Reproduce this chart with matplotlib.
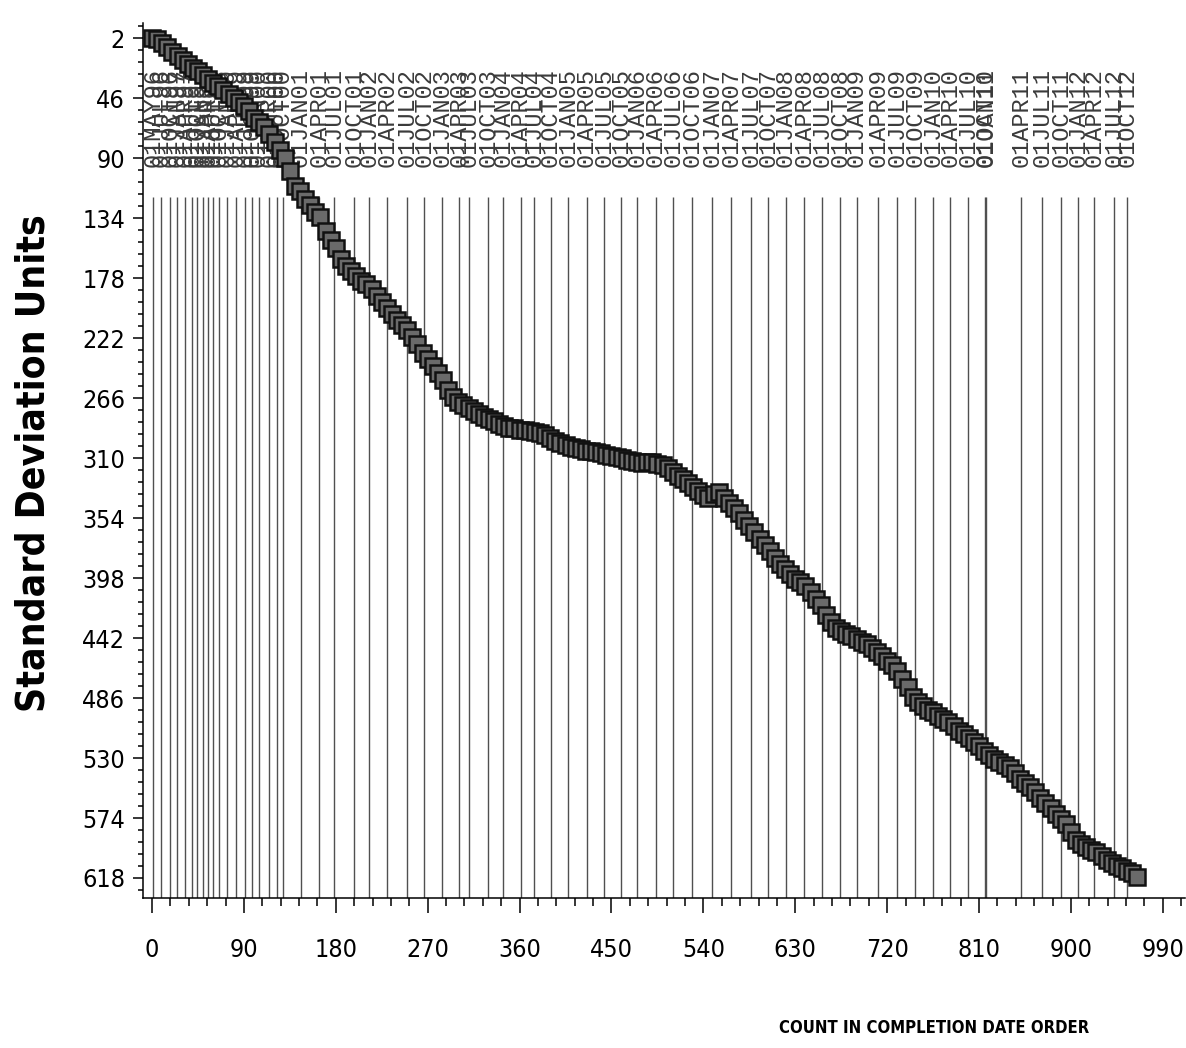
import numpy as np
import matplotlib
matplotlib.use('Agg')
import matplotlib.pyplot as plt
from matplotlib.ticker import MultipleLocator, FixedLocator

plt.rcParams['font.family'] = ['DejaVu Sans']
plt.rcParams['font.stretch'] = 'condensed'

# standard deviation units, read every 5th count
values = [2, 2.5, 5, 8.5, 12, 15, 17.5, 20.5, 23.5, 26,
          28.5, 31.5, 34.5, 37, 40, 43, 45.5, 48.5, 51.5, 55.5,
          60, 63.5, 67, 72, 78, 83.5, 90, 99, 110, 114,
          120, 124.5, 129, 133, 143, 150, 155.5, 164, 169, 172.5,
          176, 180, 182.5, 185.5, 191, 195, 199.5, 204, 208.5, 212.5,
          216, 221, 226, 232.5, 237.5, 242.5, 247.5, 252.5, 260, 265,
          269, 271, 273, 275, 277.5, 279.5, 281.5, 283, 285, 286.5,
          287.5, 288, 289, 289.5, 290, 290.5, 291.5, 293, 295.5, 297.5,
          299, 300.5, 302, 302.5, 303.5, 304.5, 305, 305.5, 306.5, 307.5,
          308, 309, 310, 311, 312, 313, 313.5, 313, 313, 314,
          315, 317, 320, 323, 325, 328, 331, 334, 337, 339,
          336, 335, 339, 343, 346.5, 350, 355, 360, 364, 369,
          374, 378, 383, 387.5, 391, 395, 398.5, 401, 404, 408,
          413, 418, 425, 430, 434.5, 437, 439, 440.5, 442.5, 444.5,
          446, 449, 452, 455, 458.5, 461.5, 466, 472, 478, 485,
          488.5, 491.5, 494.5, 496.5, 499, 501.5, 503.5, 506.5, 510, 512.5,
          515.5, 518.5, 521.5, 524.5, 528, 530.5, 533, 535, 537.5, 541,
          545, 548, 551.5, 555, 559, 563, 567, 571, 575, 578.5,
          584, 590, 593, 595.5, 597.5, 599, 601.5, 604.5, 607, 609,
          611, 612.5, 614.5, 617]
count = np.arange(len(values)) * 5

# reference dates and the count where each one falls
ref_dates = ['01MAY96', '01JUL96', '01OCT96',
             '01JAN97', '01APR97', '01JUL97', '01OCT97',
             '01JAN98', '01APR98', '01JUL98', '01OCT98',
             '01JAN99', '01APR99', '01JUL99', '01OCT99',
             '01JAN00', '01APR00', '01JUL00', '01OCT00',
             '01JAN01', '01APR01', '01JUL01', '01OCT01',
             '01JAN02', '01APR02', '01JUL02', '01OCT02',
             '01JAN03', '01APR03', '01JUL03', '01OCT03',
             '01JAN04', '01APR04', '01JUL04', '01OCT04',
             '01JAN05', '01APR05', '01JUL05', '01OCT05',
             '01JAN06', '01APR06', '01JUL06', '01OCT06',
             '01JAN07', '01APR07', '01JUL07', '01OCT07',
             '01JAN08', '01APR08', '01JUL08', '01OCT08',
             '01JAN09', '01APR09', '01JUL09', '01OCT09',
             '01JAN10', '01APR10', '01JUL10', '01OCT10',
             '01JAN11', '01APR11', '01JUL11', '01OCT11',
             '01JAN12', '01APR12', '01JUL12', '01OCT12']
ref_counts = [1.3, 8.8, 17.6, 24.2, 32.3, 39.4, 44.3, 50.2, 55.1, 60,
              65.8, 73.1, 82.2, 91.3, 98.1, 104.4, 114.8, 122, 127.9,
              145.5, 163.4, 178.3, 198.3, 212.3, 230.6, 249.5, 266.4,
              284.4, 300.3, 310.4, 329, 343.7, 361, 374, 390.3, 407.7,
              425.6, 442.8, 459.6, 475.2, 493.2, 510.4, 528.7, 548.6,
              567.4, 586.9, 603.7, 620.5, 638.8, 656, 673.5, 690, 711.5,
              729.4, 747, 764.6, 781.7, 798.9, 816, 817, 851.2, 871.9,
              889.9, 907.1, 922.4, 942.3, 955.2]

y_ticks = [2, 46, 90, 134, 178, 222, 266, 310, 354, 398, 442, 486, 530, 574, 618]

fig = plt.figure(figsize=(11.86, 10.48), dpi=100)
ax = fig.add_axes([0.1206, 0.1431, 0.8784, 0.835])
ax.set_xlim(-8.8, 1011.5)
ax.set_ylim(632.7, -9.4)

ax.spines['right'].set_visible(False)
ax.spines['top'].set_visible(False)
ax.spines['left'].set_linewidth(1.1)
ax.spines['bottom'].set_linewidth(1.1)

# reference lines and their date labels
ax.vlines(ref_counts, 118, 632.7, color='#505050', lw=1.0, zorder=1)
for xc, lab in zip(ref_counts, ref_dates):
    ax.text(xc, 96, lab, rotation=90, ha='center', va='bottom',
            fontsize=17, family=['Liberation Mono', 'DejaVu Sans Mono'],
            color='#3a3a3a', clip_on=False)

ax.plot(count, values, '-', color='#111111', lw=6, zorder=2)
ax.plot(count, values, 's', ms=12, mfc='#6a6a6a', mec='#111111', mew=1.8, zorder=3)

ax.xaxis.set_major_locator(MultipleLocator(90))
ax.xaxis.set_minor_locator(MultipleLocator(18))
ax.yaxis.set_major_locator(FixedLocator(y_ticks))
ax.yaxis.set_minor_locator(FixedLocator(np.arange(-6.8, 632, 8.8)))
ax.tick_params(axis='x', which='major', length=11, width=1.1, pad=18, labelsize=18)
ax.tick_params(axis='x', which='minor', length=5.5, width=1.1)
ax.tick_params(axis='y', which='major', length=7, width=1.1, pad=6, labelsize=18)
ax.tick_params(axis='y', which='minor', length=3.5, width=1.1)

fig.text(0.028, 1 - 463 / 1048, 'Standard Deviation Units', rotation=90,
         ha='center', va='center', fontsize=28, fontweight='bold')
fig.text(934 / 1186, 1 - 1028 / 1048, 'COUNT IN COMPLETION DATE ORDER',
         ha='center', va='center', fontsize=12, fontweight='bold')

fig.savefig('out.png', dpi=100)
